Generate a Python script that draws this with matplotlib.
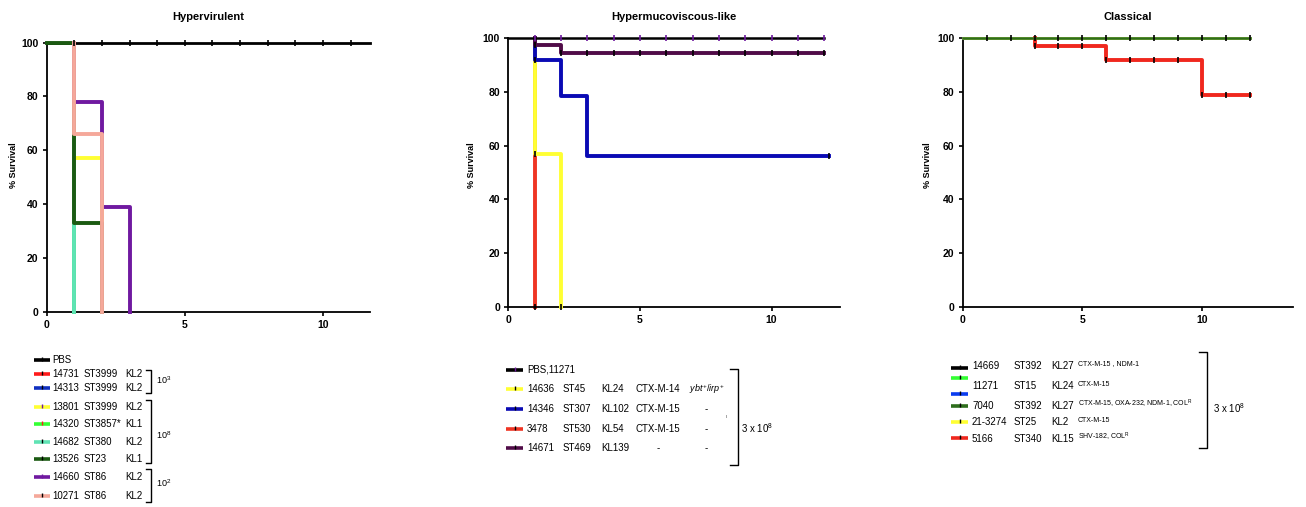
import matplotlib
matplotlib.use("Agg")
import matplotlib.pyplot as plt
from matplotlib.lines import Line2D

plt.rcParams['font.family'] = ['Liberation Sans', 'DejaVu Sans']
plt.rcParams['mathtext.fontset'] = 'custom'
plt.rcParams['mathtext.rm'] = 'Liberation Sans'
plt.rcParams['mathtext.it'] = 'Liberation Sans:italic'
plt.rcParams['mathtext.bf'] = 'Liberation Sans:bold'

W, H = 1306, 507

# ---- data: survival curves (time in days, % survival) ----
hv_names = ['PBS', '14731', '14313', '13801', '14320', '14682', '13526', '14660', '10271']
hv_st = ['', 'ST3999', 'ST3999', 'ST3999', 'ST3857*', 'ST380', 'ST23', 'ST86', 'ST86']
hv_kl = ['', 'KL2', 'KL2', 'KL2', 'KL1', 'KL2', 'KL1', 'KL2', 'KL2']
hv_colors = ['black', '#ff1a1a', '#1030c0', '#ffff33', '#33ff33', '#5fe3b4', '#1b5a12', '#7019a0', '#f5a89a']
hv_times = [[0, 11.7], [0, 1], [0, 1], [0, 1, 2], [0, 1], [0, 1], [0, 1, 2], [0, 1, 2, 3], [0, 1, 2]]
hv_surv = [[100, 100], [100, 0], [100, 0], [100, 57, 0], [100, 0], [100, 0], [100, 33, 0], [100, 78, 39, 0], [100, 66, 0]]
hv_cens_t = list(range(1, 12))
hv_doses = [r'10$^{3}$', r'10$^{8}$', r'10$^{2}$']

hm_names = ['PBS,11271', '14636', '14346', '3478', '14671']
hm_st = ['', 'ST45', 'ST307', 'ST530', 'ST469']
hm_kl = ['', 'KL24', 'KL102', 'KL54', 'KL139']
hm_res = ['', 'CTX-M-14', 'CTX-M-15', 'CTX-M-15', '-']
hm_vir = ['', r'$\it{ybt}^{+}/\it{irp}^{+}$', '-', '-', '-']
hm_colors = ['black', '#ffff33', '#0a0ab4', '#ef3524', '#500c48']
hm_times = [[0, 12], [0, 1, 2], [0, 1, 2, 3, 12.2], [0, 1], [0, 1, 2, 12]]
hm_surv = [[100, 100], [100, 57, 0], [100, 92, 78.5, 56, 56], [100, 0], [100, 97.5, 94.5, 94.5]]
hm_cens_t = list(range(1, 13))
hm_dose = r'3 x 10$^{8}$'

cl_names = ['14669', '11271', '7040', '21-3274', '5166']
cl_st = ['ST392', 'ST15', 'ST392', 'ST25', 'ST340']
cl_kl = ['KL27', 'KL24', 'KL27', 'KL2', 'KL15']
cl_res = ['CTX-M-15 , NDM-1', 'CTX-M-15', r'CTX-M-15, OXA-232, NDM-1, COL$^{\rm R}$', 'CTX-M-15', r'SHV-182, COL$^{\rm R}$']
cl_colors = ['black', '#33ff33', '#0a3cf0', '#2e6e1c', '#ffff33', '#f0281e']
cl_times = [[0, 12], [0, 12], [0, 12], [0, 12], [0, 12], [0, 3, 6, 10, 12]]
cl_surv = [[100, 100], [100, 100], [100, 100], [100, 100], [100, 100], [100, 97, 92, 79, 79]]
cl_cens_t = list(range(1, 13))
cl_red_cens_t = list(range(3, 13))
cl_dose = r'3 x 10$^{8}$'


def px(x, y):
    return x / W, 1 - y / H


def ftext(x, y, s, **kw):
    fx, fy = px(x, y)
    kw.setdefault('va', 'center')
    kw.setdefault('fontsize', 7)
    fig.text(fx, fy, s, **kw)


def fline(xs, ys, **kw):
    fig.add_artist(Line2D([x / W for x in xs], [1 - y / H for y in ys],
                          transform=fig.transFigure, **kw))


def handle(x0, x1, y, color, tick='black'):
    fline([x0, x1], [y, y], color=color, lw=2.6, solid_capstyle='butt')
    fline([(x0 + x1) / 2], [y - 1], marker='|', ms=3, mew=1, color=tick, ls='none')


def curve(ax, t, s, trim=True, **kw):
    # trim: the flat 100 % part before the first drop is hidden under the control line
    if trim and len(t) > 2 or (trim and s[-1] != s[0]):
        t = [t[1]] + list(t[1:])
        s = [s[0]] + list(s[1:])
    ax.step(t, s, where='post', clip_on=False, **kw)


def style_axes(ax, xmax):
    ax.set_xlim(0, xmax)
    ax.set_ylim(0, 100)
    for s in ['top', 'right']:
        ax.spines[s].set_visible(False)
    for s in ['left', 'bottom']:
        ax.spines[s].set_linewidth(1.3)
    ax.set_xticks([0, 5, 10])
    ax.set_yticks([0, 20, 40, 60, 80, 100])
    ax.tick_params(direction='out', length=3, width=1.2, labelsize=7.5, pad=3)
    for lab in ax.get_xticklabels() + ax.get_yticklabels():
        lab.set_fontweight('bold')


fig = plt.figure(figsize=(W / 100, H / 100), dpi=100)

# ---- Hypervirulent ----
ax1 = fig.add_axes([46.7 / W, 1 - 311.7 / H, (370 - 46.7) / W, 269 / H])
style_axes(ax1, 11.7)
for i in [0, 1, 2, 4, 5, 3, 7, 6, 8]:
    curve(ax1, hv_times[i], hv_surv[i], trim=i not in (0, 6), color=hv_colors[i],
          lw=2.0 if i == 0 else 2.8, zorder=2 + i)
ax1.plot(hv_cens_t, [100] * len(hv_cens_t), ls='none', marker='|', ms=4, mew=1.2,
         color='black', clip_on=False, zorder=20)
ax1.set_title('Hypervirulent', fontsize=8, fontweight='bold', pad=16)

# ---- Hypermucoviscous-like ----
ax2 = fig.add_axes([508.3 / W, 1 - 306.7 / H, (840 - 508.3) / W, 268.4 / H])
style_axes(ax2, 12.6)
hm_z = {3: 2, 1: 3, 2: 4, 4: 5, 0: 6}
for i in [3, 1, 2, 4, 0]:
    curve(ax2, hm_times[i], hm_surv[i], trim=i != 0, color=hm_colors[i],
          lw=1.8 if i == 0 else 2.8, zorder=hm_z[i])
ax2.plot(hm_cens_t, [100] * len(hm_cens_t), ls='none', marker='|', ms=4, mew=1.2,
         color='#7019a0', clip_on=False, zorder=20)
ax2.plot(hm_cens_t, [97.5] + [94.5] * (len(hm_cens_t) - 1), ls='none', marker='|', ms=4,
         mew=1.2, color='black', clip_on=False, zorder=20)
ax2.plot([1, 12.2, 1, 1, 2], [92, 56, 57, 0, 0], ls='none', marker='|', ms=4, mew=1.2,
         color='black', clip_on=False, zorder=20)
ax2.set_title('Hypermucoviscous-like', fontsize=8, fontweight='bold', pad=13)

# ---- Classical ----
ax3 = fig.add_axes([962.7 / W, 1 - 306.7 / H, (1293 - 962.7) / W, 268.4 / H])
style_axes(ax3, 13.8)
cl_z = {0: 2, 1: 3, 2: 4, 4: 5, 5: 6, 3: 7}
for i in [0, 1, 2, 4, 5, 3]:
    curve(ax3, cl_times[i], cl_surv[i], trim=i == 5, color=cl_colors[i],
          lw=2.8 if i == 5 else 1.8, zorder=cl_z[i])
ax3.plot(cl_cens_t, [100] * len(cl_cens_t), ls='none', marker='|', ms=4, mew=1.2,
         color='black', clip_on=False, zorder=20)
red_s = [97 if t < 6 else 92 if t < 10 else 79 for t in cl_red_cens_t]
ax3.plot(cl_red_cens_t, red_s, ls='none', marker='|', ms=4, mew=1.2,
         color='black', clip_on=False, zorder=20)
ax3.set_title('Classical', fontsize=8, fontweight='bold', pad=13)

for xl in [14, 472, 927]:
    ftext(xl, 165, '% Survival', rotation=90, ha='center', fontsize=6.5, fontweight='bold')

# ---- legend: Hypervirulent ----
hv_rows = [360, 374, 388, 407, 424, 442, 459, 477, 496]
hv_ticks = ['black', 'black', 'black', '#7019a0', '#ff1a1a', 'black', 'black', '#7019a0', 'black']
for i, y in enumerate(hv_rows):
    handle(34, 50, y, hv_colors[i], hv_ticks[i])
    ftext(52, y, hv_names[i])
    ftext(84, y, hv_st[i])
    ftext(125, y, hv_kl[i])
for (top, bot, ly), dose in zip([(370, 393, 380), (400, 463, 435), (469, 502, 483)], hv_doses):
    fline([146, 151, 151, 146], [top, top, bot, bot], color='black', lw=1)
    ftext(156, ly, dose, fontsize=6.5)

# ---- legend: Hypermucoviscous-like ----
hm_rows = [370, 389, 409, 429, 448]
for i, y in enumerate(hm_rows):
    handle(506, 523, y, hm_colors[i], '#7019a0' if i == 0 else 'black')
    ftext(527, y, hm_names[i])
    ftext(563, y, hm_st[i])
    ftext(601, y, hm_kl[i])
    if hm_res[i] == '-':
        ftext(658, y, hm_res[i], ha='center')
    else:
        ftext(636, y, hm_res[i])
    if hm_vir[i] == '-':
        ftext(706, y, hm_vir[i], ha='center')
    else:
        ftext(689, y, hm_vir[i], fontsize=6.5)
ftext(726, 417, 'ι', fontsize=4, color='#555555')
fline([730, 738, 738, 730], [369, 369, 465, 465], color='black', lw=1)
ftext(741, 428, hm_dose)

# ---- legend: Classical ----
cl_handle_rows = [368, 378, 394, 406, 422, 438]
for i, y in enumerate(cl_handle_rows):
    handle(951, 968, y, cl_colors[i])
cl_rows = [366, 386, 406, 422, 439]
for i, y in enumerate(cl_rows):
    ftext(972, y, cl_names[i])
    ftext(1014, y, cl_st[i])
    ftext(1051, y, cl_kl[i])
    ftext(1078, y - 2, cl_res[i], fontsize=5)
fline([1199, 1207, 1207, 1199], [352, 352, 448, 448], color='black', lw=1)
ftext(1213, 408, cl_dose)

fig.savefig('out.png', dpi=100)
